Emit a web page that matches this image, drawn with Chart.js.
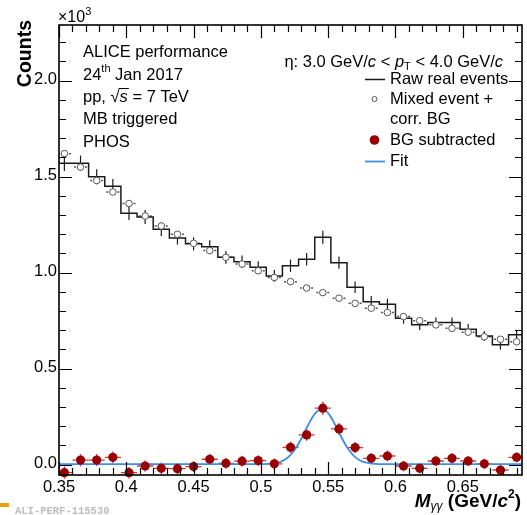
<!DOCTYPE html>
<html>
<head>
<meta charset="utf-8">
<script src="https://cdn.jsdelivr.net/npm/chart.js@4.4.1/dist/chart.umd.min.js"></script>
<style>
  html, body { margin: 0; padding: 0; background: #fff; }
  canvas { display: block; }
</style>
</head>
<body>
<canvas id="massChart" width="527" height="515"></canvas>
<script>
// bin centres of the invariant mass histogram (GeV/c^2)
const binCenters = [0.354, 0.366, 0.378, 0.390, 0.402, 0.414, 0.426, 0.438, 0.450, 0.462,
  0.474, 0.486, 0.498, 0.510, 0.522, 0.534, 0.546, 0.558, 0.570, 0.582,
  0.594, 0.606, 0.618, 0.630, 0.642, 0.654, 0.666, 0.678, 0.690];
const binHalfWidth = 0.006;

// all counts in units of 10^3
const rawCounts = [1.57, 1.57, 1.50, 1.45, 1.31, 1.29, 1.226, 1.18, 1.15, 1.135,
  1.08, 1.057, 1.028, 0.983, 1.036, 1.07, 1.184, 1.052, 0.924, 0.849,
  0.835, 0.762, 0.728, 0.74, 0.74, 0.705, 0.67, 0.624, 0.676];
const rawErrors = [0.040, 0.040, 0.039, 0.038, 0.036, 0.036, 0.035, 0.034, 0.034, 0.034,
  0.033, 0.033, 0.032, 0.031, 0.032, 0.033, 0.034, 0.032, 0.030, 0.029,
  0.029, 0.028, 0.027, 0.027, 0.027, 0.027, 0.026, 0.025, 0.026];
const mixedCounts = [1.62, 1.55, 1.48, 1.42, 1.36, 1.295, 1.243, 1.20, 1.153, 1.115,
  1.08, 1.045, 1.01, 0.975, 0.953, 0.92, 0.896, 0.867, 0.84, 0.815,
  0.792, 0.771, 0.75, 0.728, 0.71, 0.69, 0.666, 0.653, 0.64];
const subCounts = [-0.042, 0.024, 0.024, 0.038, -0.042, -0.007, -0.019, -0.021, -0.010, 0.028,
  0.007, 0.018, 0.021, 0.004, 0.090, 0.155, 0.294, 0.186, 0.089, 0.033,
  0.045, -0.007, -0.019, 0.019, 0.033, 0.019, 0.004, -0.028, 0.038];
const subErrors = [0.032, 0.032, 0.031, 0.031, 0.030, 0.030, 0.030, 0.029, 0.029, 0.029,
  0.029, 0.028, 0.028, 0.028, 0.030, 0.031, 0.035, 0.031, 0.029, 0.028,
  0.028, 0.027, 0.027, 0.027, 0.027, 0.026, 0.026, 0.026, 0.026];

// fit curve
const fitX = [0.35, 0.50, 0.505, 0.51, 0.515, 0.52, 0.525, 0.53, 0.535, 0.54, 0.545,
  0.55, 0.555, 0.56, 0.565, 0.57, 0.575, 0.58, 0.585, 0.59, 0.694];
const fitY = [0.003, 0.003, 0.004, 0.007, 0.016, 0.037, 0.076, 0.135, 0.205, 0.264, 0.289,
  0.268, 0.210, 0.140, 0.080, 0.039, 0.017, 0.008, 0.004, 0.003, 0.003];

const xTickValues = [0.35, 0.40, 0.45, 0.50, 0.55, 0.60, 0.65];
const xTickLabels = ['0.35', '0.4', '0.45', '0.5', '0.55', '0.6', '0.65'];
const yTickValues = [0, 0.5, 1.0, 1.5, 2.0];
const yTickLabels = ['0.0', '0.5', '1.0', '1.5', '2.0'];

const FONT = '"Liberation Sans", Arial, Helvetica, sans-serif';
const RED = '#990000';
const FIT_BLUE = '#3d8ee6';

// histogram outline: one point at each left bin edge, plus the last right edge
const rawSteps = binCenters.map((c, i) => ({ x: c - binHalfWidth, y: rawCounts[i] }));
rawSteps.push({ x: binCenters[binCenters.length - 1] + binHalfWidth, y: rawCounts[rawCounts.length - 1] });

// draws a list of [text, font, dy] pieces one after another
function drawRich(ctx, x, y, parts, align) {
  let w = 0;
  parts.forEach(p => { ctx.font = p[1]; w += ctx.measureText(p[0]).width; });
  let cx = align === 'right' ? x - w : x;
  const starts = [];
  parts.forEach(p => {
    ctx.font = p[1];
    starts.push(cx);
    ctx.fillText(p[0], cx, y + (p[2] || 0));
    cx += ctx.measureText(p[0]).width;
  });
  return starts;
}

// error bars under the markers
const errorBarPlugin = {
  id: 'errorBars',
  beforeDatasetsDraw(chart) {
    const ctx = chart.ctx;
    const xs = chart.scales.x, ys = chart.scales.y;
    const area = chart.chartArea;
    ctx.save();
    ctx.beginPath();
    ctx.rect(area.left, area.top, area.right - area.left, area.bottom - area.top);
    ctx.clip();

    // raw histogram: vertical bars
    ctx.strokeStyle = '#1a1a1a';
    ctx.lineWidth = 1.2;
    binCenters.forEach((c, i) => {
      const px = xs.getPixelForValue(c);
      ctx.beginPath();
      ctx.moveTo(px, ys.getPixelForValue(rawCounts[i] - rawErrors[i]));
      ctx.lineTo(px, ys.getPixelForValue(rawCounts[i] + rawErrors[i]));
      ctx.stroke();
    });

    // mixed event: dotted horizontal bars outside the marker
    ctx.strokeStyle = '#555';
    ctx.lineWidth = 1.5;
    ctx.setLineDash([2, 3]);
    binCenters.forEach((c, i) => {
      const px = xs.getPixelForValue(c);
      const py = ys.getPixelForValue(mixedCounts[i]);
      const l = xs.getPixelForValue(c - binHalfWidth);
      const r = xs.getPixelForValue(c + binHalfWidth);
      ctx.beginPath();
      ctx.moveTo(px - 4.5, py); ctx.lineTo(l, py);
      ctx.moveTo(px + 4.5, py); ctx.lineTo(r, py);
      ctx.stroke();
    });
    ctx.setLineDash([]);
    ctx.restore();

    // BG subtracted: cross-shaped bars (not clipped, like the markers)
    ctx.save();
    ctx.strokeStyle = '#cc3a3a';
    ctx.lineWidth = 1.3;
    binCenters.forEach((c, i) => {
      const px = xs.getPixelForValue(c);
      const py = ys.getPixelForValue(subCounts[i]);
      ctx.beginPath();
      ctx.moveTo(Math.max(xs.getPixelForValue(c - binHalfWidth), area.left), py);
      ctx.lineTo(Math.min(xs.getPixelForValue(c + binHalfWidth), area.right), py);
      ctx.moveTo(px, ys.getPixelForValue(subCounts[i] - subErrors[i]));
      ctx.lineTo(px, ys.getPixelForValue(subCounts[i] + subErrors[i]));
      ctx.stroke();
    });
    ctx.restore();
  }
};

// ROOT style frame, inner ticks, labels, legend and captions
const framePlugin = {
  id: 'rootFrame',
  afterDraw(chart) {
    const ctx = chart.ctx;
    const xs = chart.scales.x, ys = chart.scales.y;
    const a = chart.chartArea;
    ctx.save();

    // ticks
    ctx.strokeStyle = '#000';
    ctx.lineWidth = 1.2;
    ctx.beginPath();
    for (let k = 35; k <= 69; k++) {
      const px = Math.round(xs.getPixelForValue(k / 100)) + 0.5;
      const len = k % 5 === 0 ? 13 : 7;
      ctx.moveTo(px, a.bottom); ctx.lineTo(px, a.bottom - len);
      ctx.moveTo(px, a.top); ctx.lineTo(px, a.top + len);
    }
    for (let k = 0; k <= 22; k++) {
      const py = Math.round(ys.getPixelForValue(k / 10)) + 0.5;
      const len = k % 5 === 0 ? 13 : 7;
      ctx.moveTo(a.left, py); ctx.lineTo(a.left + len, py);
      ctx.moveTo(a.right, py); ctx.lineTo(a.right - len, py);
    }
    ctx.stroke();

    // frame
    ctx.lineWidth = 1.6;
    ctx.strokeRect(a.left, a.top, a.right - a.left, a.bottom - a.top);

    // tick labels
    ctx.fillStyle = '#000';
    ctx.font = '16.5px ' + FONT;
    ctx.textBaseline = 'middle';
    ctx.textAlign = 'center';
    xTickValues.forEach((v, i) => ctx.fillText(xTickLabels[i], xs.getPixelForValue(v), 487));
    ctx.textAlign = 'right';
    yTickValues.forEach((v, i) => ctx.fillText(yTickLabels[i], 57, ys.getPixelForValue(v) - 1));
    ctx.textAlign = 'left';

    // exponent above the y axis
    drawRich(ctx, 58, 18, [['\u00d710', '16px ' + FONT], ['3', '11px ' + FONT, -6]]);

    // y title
    ctx.save();
    ctx.translate(26, 20);
    ctx.rotate(-Math.PI / 2);
    ctx.textAlign = 'right';
    ctx.font = 'bold 19.5px ' + FONT;
    ctx.fillText('Counts', 0, 0);
    ctx.restore();

    // x title
    const B = 'bold 19px ' + FONT;
    drawRich(ctx, 521, 502, [
      ['M', 'bold italic 19px ' + FONT],
      ['\u03b3\u03b3', 'italic 12px ' + FONT, 5],
      [' (GeV/', B],
      ['c', 'bold italic 19px ' + FONT],
      ['2', 'bold 12px ' + FONT, -7],
      [')', B]
    ], 'right');

    // left caption block
    const F = '16.5px ' + FONT, FI = 'italic 16.5px ' + FONT, FS = '11px ' + FONT;
    ctx.font = F;
    ctx.fillText('ALICE performance', 83, 52);
    drawRich(ctx, 83, 75, [['24', F], ['th', FS, -6], [' Jan 2017', F]]);
    const st = drawRich(ctx, 83, 97, [['pp, ', F], ['\u221a', F], ['s', FI], [' = 7 TeV', F]]);
    ctx.font = FI;
    const sw = ctx.measureText('s').width;
    ctx.lineWidth = 1;
    ctx.beginPath();
    ctx.moveTo(st[2] - 1, 97 - 8.5);
    ctx.lineTo(st[2] + sw + 1, 97 - 8.5);
    ctx.stroke();
    ctx.font = F;
    ctx.fillText('MB triggered', 83, 119);
    ctx.fillText('PHOS', 83, 142);

    // pT range header
    drawRich(ctx, 503, 62, [
      ['\u03b7: 3.0 GeV/', F], ['c', FI], [' < ', F], ['p', FI], ['T', FS, 5],
      [' < 4.0 GeV/', F], ['c', FI]
    ], 'right');

    // legend
    ctx.font = F;
    ctx.fillText('Raw real events', 390, 79);
    ctx.fillText('Mixed event +', 390, 99);
    ctx.fillText('corr. BG', 390, 119);
    ctx.fillText('BG subtracted', 390, 140);
    ctx.fillText('Fit', 390, 161);
    ctx.lineWidth = 1.5;
    ctx.strokeStyle = '#1a1a1a';
    ctx.beginPath(); ctx.moveTo(365, 79.5); ctx.lineTo(385, 79.5); ctx.stroke();
    ctx.strokeStyle = '#555';
    ctx.lineWidth = 1;
    ctx.beginPath(); ctx.arc(374.5, 99, 2.5, 0, Math.PI * 2); ctx.stroke();
    ctx.fillStyle = RED;
    ctx.beginPath(); ctx.arc(374.5, 140, 4.8, 0, Math.PI * 2); ctx.fill();
    ctx.strokeStyle = FIT_BLUE;
    ctx.lineWidth = 1.8;
    ctx.beginPath(); ctx.moveTo(365, 161.5); ctx.lineTo(385, 161.5); ctx.stroke();

    // figure id
    ctx.fillStyle = '#e0a400';
    ctx.fillRect(0, 503, 9, 4);
    ctx.fillStyle = '#bdbdbd';
    ctx.font = 'bold 10.5px "Liberation Mono", "DejaVu Sans Mono", monospace';
    ctx.fillText('ALI-PERF-115530', 15, 511);

    ctx.restore();
  }
};

const ctx = document.getElementById('massChart');

new Chart(ctx, {
  type: 'scatter',
  data: {
    datasets: [
      {
        label: 'BG subtracted',
        data: binCenters.map((c, i) => ({ x: c, y: subCounts[i] })),
        pointRadius: 4.6,
        pointBackgroundColor: RED,
        pointBorderColor: RED,
        pointBorderWidth: 0,
        clip: false,
        order: 0
      },
      {
        label: 'Fit',
        type: 'line',
        data: fitX.map((x, i) => ({ x: x, y: fitY[i] })),
        borderColor: FIT_BLUE,
        borderWidth: 1.8,
        pointRadius: 0,
        cubicInterpolationMode: 'monotone',
        fill: false,
        order: 1
      },
      {
        label: 'Mixed event + corr. BG',
        data: binCenters.map((c, i) => ({ x: c, y: mixedCounts[i] })),
        pointRadius: 3.3,
        pointBackgroundColor: '#fff',
        pointBorderColor: '#555',
        pointBorderWidth: 1,
        order: 2
      },
      {
        label: 'Raw real events',
        type: 'line',
        data: rawSteps,
        stepped: true,
        borderColor: '#1a1a1a',
        borderWidth: 1.5,
        pointRadius: 0,
        fill: false,
        order: 3
      }
    ]
  },
  options: {
    responsive: false,
    animation: false,
    layout: { padding: { left: 59, top: 25, right: 2, bottom: 40 } },
    scales: {
      x: { type: 'linear', min: 0.35, max: 0.694, display: false },
      y: { type: 'linear', min: -0.054, max: 2.29, display: false }
    },
    plugins: {
      legend: { display: false },
      tooltip: { enabled: false }
    }
  },
  plugins: [errorBarPlugin, framePlugin]
});
</script>
</body>
</html>
